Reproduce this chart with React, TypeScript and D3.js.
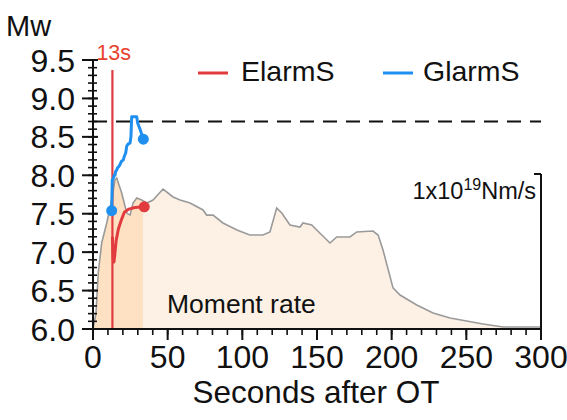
import React from "react";
import * as d3 from "d3";

// Moment rate function (time in s, rate in units of 1e19 Nm/s)
const momentTimes = [0, 2, 3.5, 5.8, 9.2, 12.5, 14.7, 15.9, 19.2, 22.6, 24.8, 26.8, 29.3, 32.6, 36, 40.2, 46.9, 53.6, 58.3, 65, 73.7, 76.1, 80.4, 87, 96.4, 105, 113.8, 118.5, 123, 126.4, 131.9, 138.6, 140.6, 146.5, 149.8, 158.7, 163.2, 172.1, 176.6, 187.5, 190.9, 194.2, 200.9, 205.6, 216.8, 227.7, 239.1, 261.2, 274.6, 297.3, 300];
const momentRates = [0, 0.1, 0.36, 0.555, 0.684, 0.832, 0.961, 0.974, 0.877, 0.748, 0.735, 0.813, 0.845, 0.832, 0.813, 0.832, 0.903, 0.852, 0.832, 0.813, 0.768, 0.735, 0.735, 0.684, 0.639, 0.606, 0.606, 0.626, 0.781, 0.748, 0.671, 0.658, 0.684, 0.671, 0.639, 0.555, 0.594, 0.594, 0.626, 0.632, 0.606, 0.51, 0.265, 0.219, 0.155, 0.103, 0.071, 0.032, 0.013, 0.013, 0.013];

// ElarmS magnitude estimates
const elarmsTimes = [13, 13.5, 14, 14.5, 15.5, 17, 19, 21, 24, 28, 34.3];
const elarmsMw = [7.2, 6.9, 6.87, 6.95, 7.15, 7.3, 7.42, 7.52, 7.56, 7.58, 7.59];

// GlarmS magnitude estimates
const glarmsTimes = [12.5, 12.9, 13.6, 14.2, 14.7, 15.2, 15.9, 16.5, 17.2, 18.1, 19, 20.3, 21, 21.9, 22.6, 23.6, 24.8, 25.4, 25.9, 29.3, 29.9, 31.5, 33.7];
const glarmsMw = [7.54, 7.94, 7.96, 8.0, 8.0, 8.05, 8.07, 8.1, 8.11, 8.14, 8.18, 8.2, 8.25, 8.29, 8.38, 8.41, 8.42, 8.5, 8.76, 8.76, 8.68, 8.6, 8.47];

const xTickValues = [0, 50, 100, 150, 200, 250, 300];
const yTickValues = [6.0, 6.5, 7.0, 7.5, 8.0, 8.5, 9.0, 9.5];
const finalMw = 8.7;
const alertTime = 13;
const highlightEnd = 33.5;

const RED = "#e23b3f";
const BLUE = "#1f8ff0";
const FONT = "Liberation Sans, Arial, Helvetica, sans-serif";

function T({ x, y, size, anchor = "start", fill = "#111", children }: any) {
  return (
    <text x={x} y={y} fontSize={size} fontFamily={FONT} textAnchor={anchor} fill={fill}>
      {children}
    </text>
  );
}

export default function App() {
  const x = d3.scaleLinear().domain([0, 300]).range([93, 541]);
  const y = d3.scaleLinear().domain([6, 9.5]).range([329, 60]);
  const yM = d3.scaleLinear().domain([0, 1]).range([329, 174]);

  const moment = momentTimes.map((t, i) => ({ t, v: momentRates[i] }));
  const area = d3.area<any>().x((d) => x(d.t)).y0(yM(0)).y1((d) => yM(d.v));
  const mline = d3.line<any>().x((d) => x(d.t)).y((d) => yM(d.v));

  const elarms = elarmsTimes.map((t, i) => ({ t, m: elarmsMw[i] }));
  const glarms = glarmsTimes.map((t, i) => ({ t, m: glarmsMw[i] }));
  const mwLine = d3.line<any>().x((d) => x(d.t)).y((d) => y(d.m));

  const early = moment.filter((d) => d.t <= highlightEnd);
  // interpolate the boundary sample at the end of the highlighted window
  const bi = momentTimes.findIndex((t) => t > highlightEnd);
  const tA = momentTimes[bi - 1], tB = momentTimes[bi];
  const vEnd = momentRates[bi - 1] + ((highlightEnd - tA) / (tB - tA)) * (momentRates[bi] - momentRates[bi - 1]);
  early.push({ t: highlightEnd, v: vEnd });

  const xMinor = d3.range(0, 301, 10);
  const yMinor = d3.range(60, 96, 1).map((v) => v / 10);

  const x0 = x(0), x1 = x(300), yb = y(6);

  return (
    <svg
      width={567}
      height={420}
      style={{ position: "absolute", left: 0, top: 0, background: "#fff" }}
    >
      {/* moment rate */}
      <path d={area(moment) || ""} fill="#fdf1e6" />
      <path d={area(early) || ""} fill="#fde1c2" />
      <path d={mline(moment) || ""} fill="none" stroke="#9a9a9a" strokeWidth={1.6} />

      {/* final magnitude */}
      <line x1={x0} x2={x1} y1={y(finalMw)} y2={y(finalMw)} stroke="#111" strokeWidth={2} strokeDasharray="14,9" />

      {/* first alert */}
      <line x1={x(alertTime)} x2={x(alertTime)} y1={70} y2={yb} stroke={RED} strokeWidth={2.2} />
      <T x={x(alertTime) - 16} y={60} size={21.5} fill="#e8412c">13s</T>

      {/* magnitude estimates */}
      <path d={mwLine(elarms) || ""} fill="none" stroke={RED} strokeWidth={3} strokeLinejoin="round" />
      <circle cx={x(elarmsTimes[elarmsTimes.length - 1])} cy={y(elarmsMw[elarmsMw.length - 1])} r={5.5} fill={RED} />
      <path d={mwLine(glarms) || ""} fill="none" stroke={BLUE} strokeWidth={3} strokeLinejoin="round" />
      <circle cx={x(glarmsTimes[0])} cy={y(glarmsMw[0])} r={5.5} fill={BLUE} />
      <circle cx={x(glarmsTimes[glarmsTimes.length - 1])} cy={y(glarmsMw[glarmsMw.length - 1])} r={5.5} fill={BLUE} />

      {/* left axis */}
      <line x1={x0} x2={x0} y1={y(9.5)} y2={yb} stroke="#111" strokeWidth={2} />
      {yMinor.map((v) => (
        <line key={"ym" + v} x1={x0 - 5} x2={x0 + 4} y1={y(v)} y2={y(v)} stroke="#111" strokeWidth={1.6} />
      ))}
      {yTickValues.map((v) => (
        <g key={"yt" + v}>
          <line x1={x0 - 11} x2={x0 + 5} y1={y(v)} y2={y(v)} stroke="#111" strokeWidth={2} />
          <T x={x0 - 18} y={y(v) + 11.5} size={32} anchor="end">{v.toFixed(1)}</T>
        </g>
      ))}

      {/* bottom axis */}
      <line x1={x0} x2={x1} y1={yb} y2={yb} stroke="#111" strokeWidth={2} />
      {xMinor.map((v) => (
        <line key={"xm" + v} x1={x(v)} x2={x(v)} y1={yb} y2={yb + 6} stroke="#111" strokeWidth={1.6} />
      ))}
      {xTickValues.map((v) => (
        <g key={"xt" + v}>
          <line x1={x(v)} x2={x(v)} y1={yb} y2={yb + 11} stroke="#111" strokeWidth={2} />
          <T x={x(v)} y={368} size={32} anchor="middle">{String(v)}</T>
        </g>
      ))}

      {/* moment rate scale bar */}
      <line x1={x1} x2={x1} y1={yM(1)} y2={yb} stroke="#111" strokeWidth={2} />
      <line x1={x1 - 7} x2={x1} y1={yM(1)} y2={yM(1)} stroke="#111" strokeWidth={2} />
      <text x={x1 - 5} y={199} fontSize={23.5} fontFamily={FONT} textAnchor="end" fill="#111">
        1x10<tspan fontSize={16} dy={-9}>19</tspan><tspan dy={9}>Nm/s</tspan>
      </text>

      <T x={167} y={313} size={26.5}>Moment rate</T>

      {/* titles */}
      <T x={6} y={36} size={29}>Mw</T>
      <T x={316} y={403} size={31.5} anchor="middle">Seconds after OT</T>

      {/* legend */}
      <line x1={198} x2={228} y1={73} y2={73} stroke={RED} strokeWidth={3} />
      <T x={241} y={81} size={28.5}>ElarmS</T>
      <line x1={383} x2={413} y1={73} y2={73} stroke={BLUE} strokeWidth={3} />
      <T x={423} y={81} size={28.5}>GlarmS</T>
    </svg>
  );
}
